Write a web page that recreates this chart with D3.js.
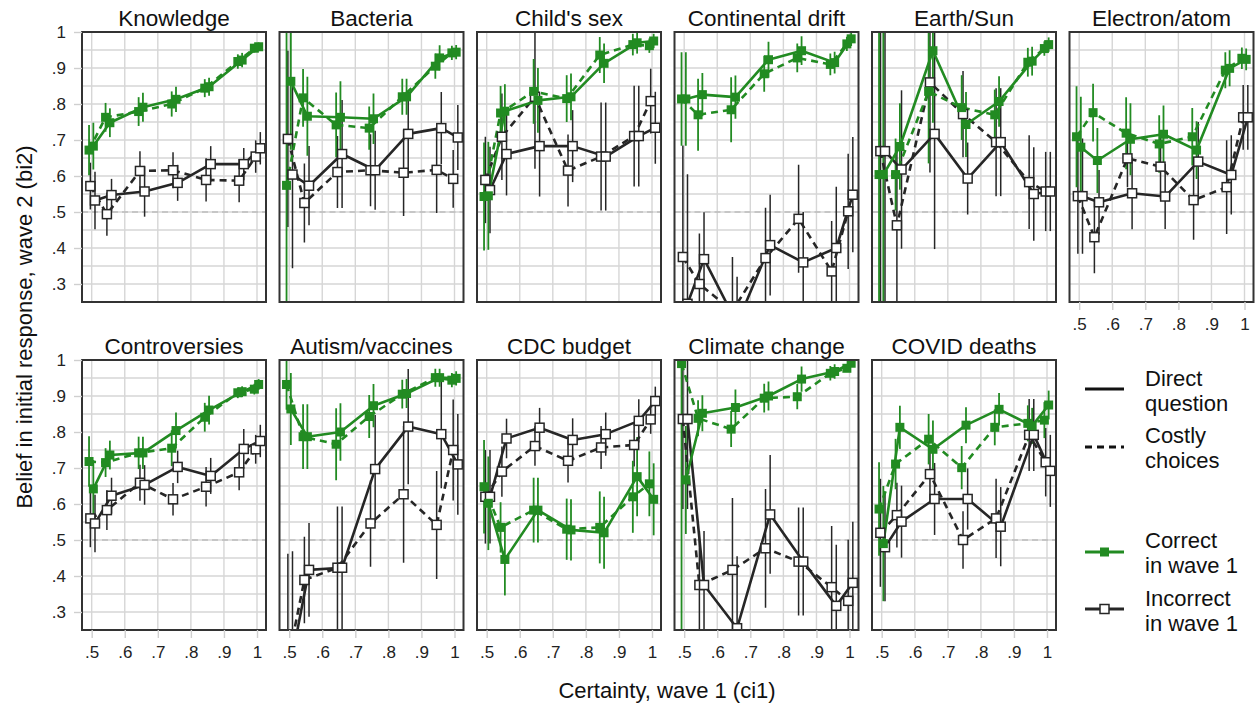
<!DOCTYPE html>
<html><head><meta charset="utf-8">
<script src="https://cdn.jsdelivr.net/npm/d3@7"></script>
<style>body{margin:0;background:#fff;} svg{display:block;font-family:"Liberation Sans",Arial,sans-serif;}</style>
</head><body><svg id="c" width="1257" height="706"></svg>
<script>
const topics = ["Knowledge","Bacteria","Child's sex","Continental drift","Earth/Sun","Electron/atom",
  "Controversies","Autism/vaccines","CDC budget","Climate change","COVID deaths"];
const certaintyBins = [0.5,0.55,0.65,0.75,0.85,0.95,1.0];
const xTickValues = [0.5,0.6,0.7,0.8,0.9,1];
const yTickValues = [0.3,0.4,0.5,0.6,0.7,0.8,0.9,1];

// Correct in wave 1, direct question
const correctDirect = [
 [.683,.748,.791,.813,.848,.922,.959],
 [.863,.766,.763,.759,.820,.928,.944],
 [.545,.780,.810,.820,.913,.970,.975],
 [.814,.826,.819,.923,.948,.915,.981],
 [.604,.682,.948,.743,.807,.919,.965],
 [.680,.643,.702,.716,.672,.899,.924],
 [.642,.736,.742,.804,.861,.912,.932],
 [.864,.787,.800,.873,.907,.951,.949],
 [.602,.446,.583,.528,.520,.676,.613],
 [.667,.852,.868,.900,.947,.968,.991],
 [.490,.813,.752,.819,.863,.817,.875]];
const correctDirectCI = [
 [.065,.04,.04,.035,.025,.02,.012],
 [.19,.11,.10,.07,.05,.035,.02],
 [.15,.075,.09,.065,.055,.03,.02],
 [.13,.06,.06,.05,.04,.03,.02],
 [.8,.12,.2,.09,.07,.04,.02],
 [.14,.09,.10,.08,.08,.05,.03],
 [.08,.04,.045,.05,.04,.015,.015],
 [.10,.09,.08,.06,.04,.025,.02],
 [.13,.10,.09,.085,.10,.11,.10],
 [.15,.05,.05,.04,.035,.02,.01],
 [.16,.06,.08,.05,.045,.05,.04]];
// Correct in wave 1, costly choices
const correctCostly = [
 [.672,.763,.779,.800,.844,.918,.955],
 [.574,.817,.742,.733,.820,.905,.942],
 [.543,.775,.835,.815,.936,.965,.962],
 [.814,.770,.784,.884,.928,.910,.967],
 [.604,.604,.835,.790,.770,.916,.954],
 [.709,.776,.719,.689,.709,.894,.927],
 [.718,.715,.742,.755,.841,.909,.919],
 [.932,.787,.766,.843,.905,.951,.944],
 [.648,.535,.583,.530,.535,.620,.656],
 [.990,.838,.808,.894,.898,.963,.977],
 [.586,.711,.780,.701,.813,.824,.833]];
const correctCostlyCI = [
 [.07,.04,.04,.035,.025,.02,.012],
 [.7,.08,.09,.06,.05,.035,.02],
 [.15,.075,.09,.065,.05,.03,.02],
 [.13,.10,.09,.05,.04,.03,.02],
 [.8,.10,.2,.09,.07,.04,.02],
 [.14,.08,.10,.08,.08,.05,.03],
 [.07,.04,.045,.05,.04,.015,.015],
 [.07,.09,.10,.06,.04,.025,.02],
 [.13,.07,.09,.085,.10,.10,.09],
 [.75,.05,.05,.04,.035,.02,.01],
 [.13,.07,.07,.06,.05,.05,.05]];
// Incorrect in wave 1, direct question
const incorrectDirect = [
 [.532,.547,.557,.581,.633,.633,.677],
 [.604,.573,.661,.616,.717,.733,.707],
 [.561,.661,.683,.683,.654,.711,.734],
 [.245,.369,.190,.408,.360,.400,.548],
 [.669,.618,.717,.593,.694,.550,.557],
 [.544,.527,.552,.543,.640,.603,.763],
 [.546,.623,.653,.703,.678,.753,.775],
 [.179,.417,.423,.697,.815,.794,.710],
 [.620,.782,.812,.778,.794,.831,.886],
 [.836,.375,.255,.571,.440,.317,.381],
 [.480,.551,.614,.614,.537,.792,.692]];
const incorrectDirectCI = [
 [.08,.045,.07,.05,.05,.045,.045],
 [.26,.11,.15,.11,.12,.10,.09],
 [.12,.115,.14,.10,.15,.14,.10],
 [.36,.13,.13,.14,.14,.17,.16],
 [.7,.22,.32,.10,.15,.13,.11],
 [.16,.09,.10,.09,.11,.11,.09],
 [.08,.05,.055,.045,.05,.055,.045],
 [.29,.13,.17,.15,.16,.15,.14],
 [.13,.055,.055,.06,.06,.06,.04],
 [.25,.15,.2,.165,.15,.17,.17],
 [.15,.10,.10,.085,.11,.10,.10]];
// Incorrect in wave 1, costly choices
const incorrectCostly = [
 [.572,.494,.614,.616,.589,.587,.654],
 [.703,.525,.611,.616,.609,.617,.592],
 [.589,.709,.820,.615,.654,.711,.808],
 [.375,.300,.225,.372,.481,.335,.502],
 [.669,.463,.860,.772,.694,.583,.557],
 [.544,.430,.649,.626,.533,.569,.763],
 [.560,.583,.659,.613,.648,.688,.752],
 [.162,.389,.423,.546,.627,.542,.750],
 [.620,.690,.761,.720,.757,.764,.835],
 [.836,.375,.417,.477,.440,.369,.331],
 [.520,.569,.683,.500,.560,.792,.716]];
const incorrectCostlyCI = [
 [.065,.06,.055,.05,.06,.06,.045],
 [.245,.11,.10,.10,.12,.12,.08],
 [.12,.12,.2,.10,.15,.14,.09],
 [.31,.14,.15,.14,.15,.14,.16],
 [.8,.22,.25,.12,.15,.13,.11],
 [.16,.10,.08,.09,.11,.13,.09],
 [.08,.055,.05,.045,.055,.05,.04],
 [.30,.12,.17,.12,.19,.15,.14],
 [.13,.07,.055,.06,.06,.06,.04],
 [.25,.15,.2,.165,.15,.17,.17],
 [.15,.09,.08,.08,.11,.10,.095]];

const GREEN = "#228b22", DARK = "#262626";
const PW = 184, PH = 270, X0 = 82, DX = 197.5, TOPS = [32, 360];
const x = d3.scaleLinear().domain([0.4707, 1.0272]).range([0, PW]);
const y = d3.scaleLinear().domain([0.25, 1]).range([PH, 0]);
const fmt = d => d === 1 ? "1" : d3.format(".1f")(d).replace(/^0/, "");

const seriesDefs = [
  {vals: incorrectCostly, ci: incorrectCostlyCI, off: -0.004, color: DARK, dash: "7,5", hollow: true},
  {vals: incorrectDirect, ci: incorrectDirectCI, off: 0.010, color: DARK, dash: null, hollow: true},
  {vals: correctCostly, ci: correctCostlyCI, off: -0.008, color: GREEN, dash: "7,5", hollow: false},
  {vals: correctDirect, ci: correctDirectCI, off: 0.005, color: GREEN, dash: null, hollow: false}
];

const svg = d3.select("#c");
const line = d3.line().x(d => x(d.x)).y(d => y(d.v));
const yGrid = d3.range(5, 21).map(k => k * 0.05);

topics.forEach((t, i) => {
  const row = i < 6 ? 0 : 1, col = i < 6 ? i : i - 6;
  const g = svg.append("g").attr("transform", `translate(${X0 + col * DX},${TOPS[row]})`);
  const cid = "clip" + i;
  g.append("clipPath").attr("id", cid).append("rect").attr("width", PW).attr("height", PH);

  g.append("g").selectAll("line").data(yGrid).join("line")
    .attr("x1", 0).attr("x2", PW).attr("y1", d => y(d)).attr("y2", d => y(d))
    .attr("stroke", "#d6d6d6").attr("stroke-width", 1.4);
  g.append("g").selectAll("line").data(xTickValues).join("line")
    .attr("x1", d => x(d)).attr("x2", d => x(d)).attr("y1", 0).attr("y2", PH)
    .attr("stroke", "#d6d6d6").attr("stroke-width", 1.4);
  g.append("line").attr("x1", 0).attr("x2", PW).attr("y1", y(0.5)).attr("y2", y(0.5))
    .attr("stroke", "#bdbdbd").attr("stroke-width", 1.3).attr("stroke-dasharray", "6,4");

  const data = g.append("g").attr("clip-path", `url(#${cid})`);
  const pts = seriesDefs.map(s => certaintyBins.map((b, k) => ({x: b + s.off, v: s.vals[i][k], e: s.ci[i][k]})));
  // CIs
  seriesDefs.forEach((s, si) => {
    data.append("g").selectAll("line").data(pts[si]).join("line")
      .attr("x1", d => x(d.x)).attr("x2", d => x(d.x))
      .attr("y1", d => y(d.v - d.e)).attr("y2", d => y(d.v + d.e))
      .attr("stroke", s.color).attr("stroke-width", s.hollow ? 1.5 : 1.8);
  });
  // lines
  seriesDefs.forEach((s, si) => {
    data.append("path").datum(pts[si]).attr("d", line)
      .attr("fill", "none").attr("stroke", s.color).attr("stroke-width", 2.6)
      .attr("stroke-dasharray", s.dash).attr("stroke-linejoin", "round");
  });
  // markers
  seriesDefs.forEach((s, si) => {
    data.append("g").selectAll("rect").data(pts[si]).join("rect")
      .attr("x", d => x(d.x) - 4.5).attr("y", d => y(d.v) - 4.5)
      .attr("width", 9).attr("height", 9)
      .attr("fill", s.hollow ? "#fff" : s.color)
      .attr("stroke", s.hollow ? DARK : "none").attr("stroke-width", 1.5);
  });

  g.append("rect").attr("width", PW).attr("height", PH).attr("fill", "none")
    .attr("stroke", "#333").attr("stroke-width", 2);

  g.append("text").attr("x", PW / 2).attr("y", -6).attr("text-anchor", "middle")
    .attr("font-size", 22.5).attr("fill", "#111").text(t);

  if (col === 0) {
    const ax = g.append("g").call(d3.axisLeft(y).tickValues(yTickValues).tickFormat(fmt).tickSize(8).tickPadding(8));
    ax.select(".domain").remove();
    ax.selectAll("line").attr("stroke", "#cfcfcf").attr("stroke-width", 1.4);
    ax.selectAll("text").attr("font-size", 17).attr("fill", "#222").attr("font-family", "Liberation Sans, Arial, sans-serif");
  }
  if (row === 1 || i === 5) {
    const ax = g.append("g").attr("transform", `translate(0,${PH})`)
      .call(d3.axisBottom(x).tickValues(xTickValues).tickFormat(fmt).tickSize(8).tickPadding(8));
    ax.select(".domain").remove();
    ax.selectAll("line").attr("stroke", "#cfcfcf").attr("stroke-width", 1.4);
    ax.selectAll("text").attr("font-size", 17).attr("fill", "#222").attr("font-family", "Liberation Sans, Arial, sans-serif");
  }
});

svg.append("text").attr("transform", "translate(24,327) rotate(-90)")
  .attr("text-anchor", "middle").attr("dominant-baseline", "central")
  .attr("font-size", 22).attr("fill", "#111").text("Belief in initial response, wave 2 (bi2)");
svg.append("text").attr("x", 667).attr("y", 698).attr("text-anchor", "middle")
  .attr("font-size", 22).attr("fill", "#111").text("Certainty, wave 1 (ci1)");

// Legend
const legend = svg.append("g");
const legItems = [
  {y: 389, color: "#111", dash: null, marker: null, lines: ["Direct", "question"], ty: 386},
  {y: 447, color: "#111", dash: "7,5", marker: null, lines: ["Costly", "choices"], ty: 443},
  {y: 552, color: GREEN, dash: null, marker: "fill", lines: ["Correct", "in wave 1"], ty: 548},
  {y: 609, color: DARK, dash: null, marker: "hollow", lines: ["Incorrect", "in wave 1"], ty: 606}
];
legItems.forEach(it => {
  legend.append("line").attr("x1", 1085).attr("x2", 1124).attr("y1", it.y).attr("y2", it.y)
    .attr("stroke", it.color).attr("stroke-width", 3).attr("stroke-dasharray", it.dash);
  if (it.marker) {
    legend.append("rect").attr("x", 1104.5 - 4.5).attr("y", it.y - 4.5).attr("width", 9).attr("height", 9)
      .attr("fill", it.marker === "fill" ? GREEN : "#fff")
      .attr("stroke", it.marker === "fill" ? "none" : DARK).attr("stroke-width", 1.5);
  }
  it.lines.forEach((s, k) => {
    legend.append("text").attr("x", 1145).attr("y", it.ty + k * 24.5)
      .attr("font-size", 22).attr("fill", "#111").text(s);
  });
});
</script></body></html>
